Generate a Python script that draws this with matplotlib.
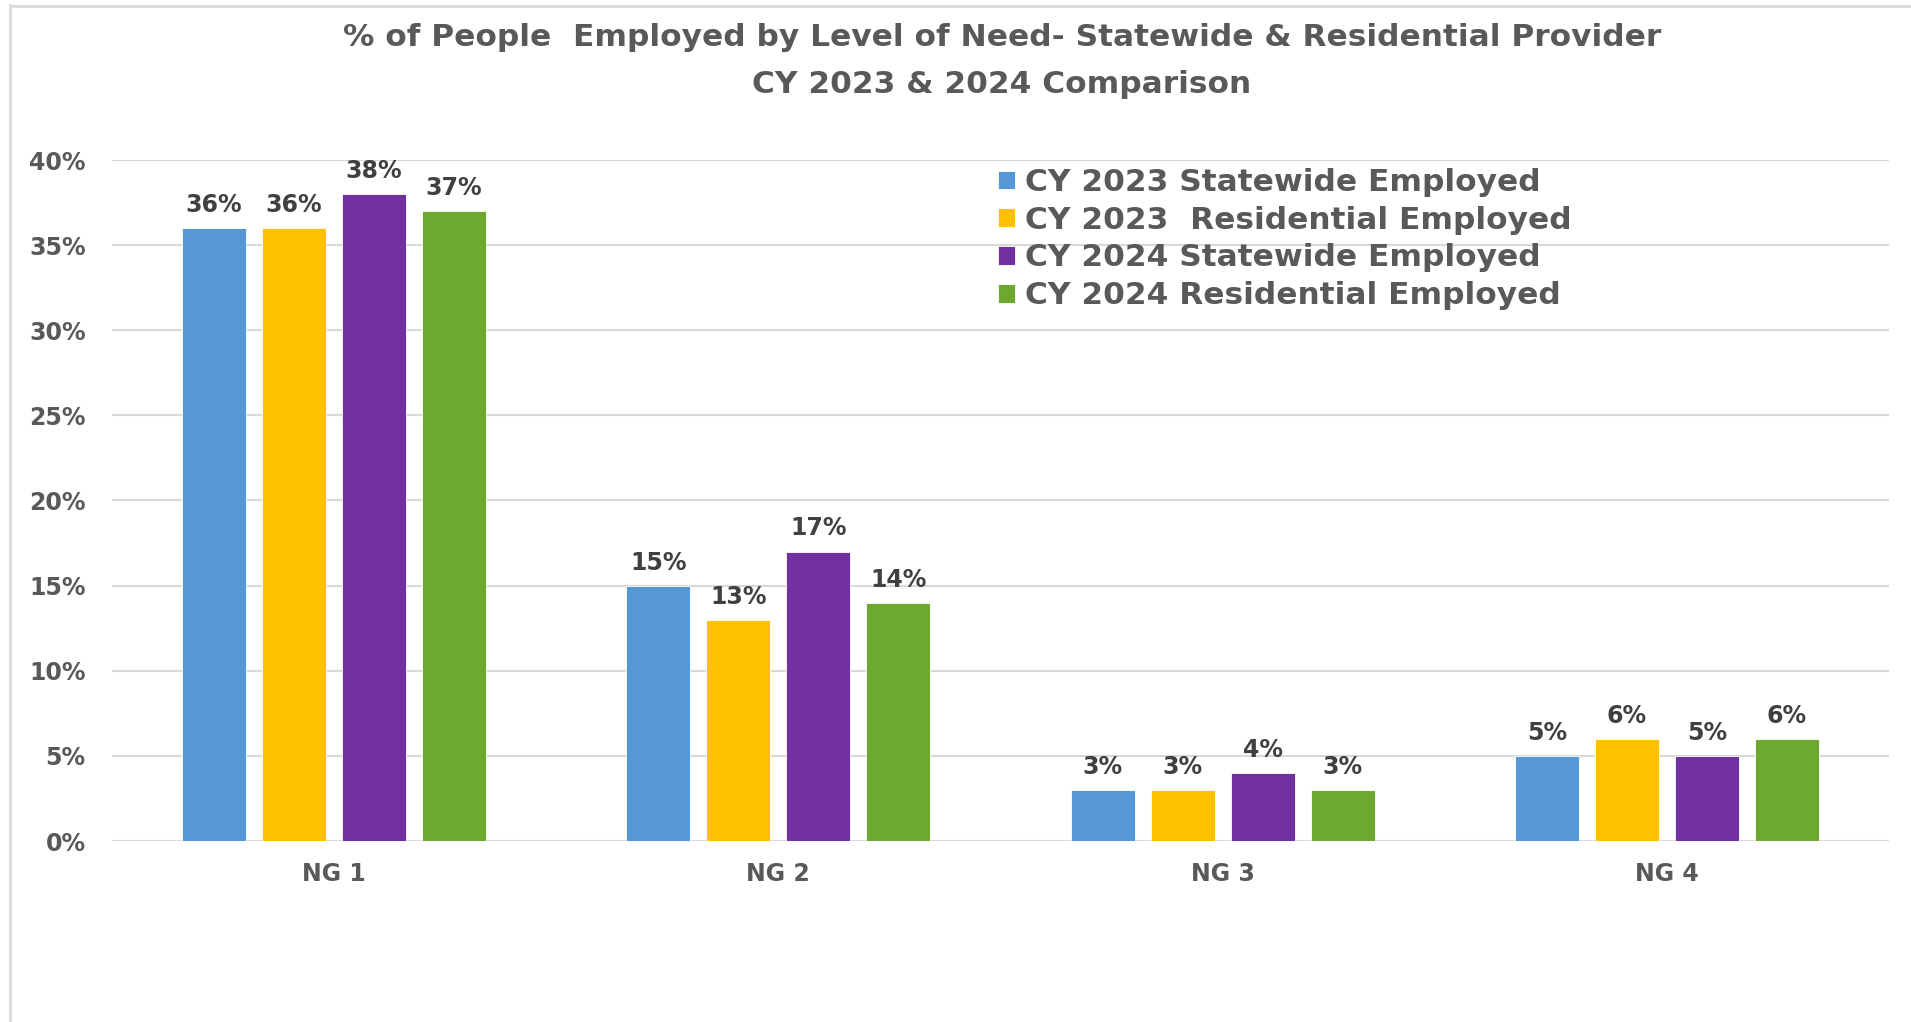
import matplotlib.pyplot as plt
from matplotlib.lines import Line2D
import numpy as np

categories = ['NG 1', 'NG 2', 'NG 3', 'NG 4']
series_names = ['CY 2023 Statewide Employed',
                'CY 2023  Residential Employed',
                'CY 2024 Statewide Employed',
                'CY 2024 Residential Employed']
sw_2023 = [36, 15, 3, 5]
res_2023 = [36, 13, 3, 6]
sw_2024 = [38, 17, 4, 5]
res_2024 = [37, 14, 3, 6]
colors = ['#5597D7', '#FFC000', '#7030A0', '#6EA92F']

title = '% of People  Employed by Level of Need- Statewide & Residential Provider\nCY 2023 & 2024 Comparison'

W, H = 1911, 1022
fig = plt.figure(figsize=(W / 100, H / 100), dpi=100)
ax = fig.add_axes([112 / W, 1 - 841 / H, (1889 - 112) / W, (841 - 160) / H])

font = 'DejaVu Sans'
gray = '#595959'

x = np.arange(len(categories))
width = 0.144
step = 0.18
all_series = [sw_2023, res_2023, sw_2024, res_2024]
for i, (vals, name, c) in enumerate(zip(all_series, series_names, colors)):
    pos = x + (i - 1.5) * step
    bars = ax.bar(pos, np.array(vals) / 100, width, color=c, label=name,
                  edgecolor='white', linewidth=0.6, zorder=3)
    ax.bar_label(bars, labels=[f'{v}%' for v in vals], padding=8,
                 fontsize=17, fontweight='bold', color='#404040',
                 family=font)

ax.set_xlim(-0.5, 3.5)
ax.set_ylim(0, 0.40)
ax.set_yticks(np.arange(0, 0.401, 0.05))
ax.set_yticklabels([f'{int(round(t * 100))}%' for t in ax.get_yticks()])
ax.set_xticks(x)
ax.set_xticklabels(categories)
ax.tick_params(axis='both', length=0, labelsize=17, labelcolor=gray)
ax.tick_params(axis='y', pad=19)
ax.tick_params(axis='x', pad=15)
for lab in ax.get_xticklabels() + ax.get_yticklabels():
    lab.set_fontweight('bold')
    lab.set_family(font)

ax.grid(axis='y', color='#D9D9D9', linewidth=1.5, zorder=0)
ax.set_axisbelow(True)
for s in ax.spines.values():
    s.set_visible(False)

fig.text(1002 / W, 1 - 61 / H, title, ha='center', va='center',
         fontsize=22.5, fontweight='bold', color=gray, family=font,
         linespacing=1.8)

leg = ax.legend(loc='upper left', bbox_to_anchor=(998 / W, 1 - 168 / H),
                bbox_transform=fig.transFigure, frameon=False,
                prop={'family': font, 'weight': 'bold', 'size': 22.5},
                handlelength=0.55, handleheight=0.55, handletextpad=0.3,
                labelspacing=0.28, borderpad=0, borderaxespad=0)
for t in leg.get_texts():
    t.set_color(gray)

# chart frame along the top and left edges
fig.add_artist(Line2D([10 / W, 1], [1 - 6.5 / H, 1 - 6.5 / H],
                      transform=fig.transFigure, color='#DCDCDC', linewidth=2.2))
fig.add_artist(Line2D([10 / W, 10 / W], [0, 1 - 5.5 / H],
                      transform=fig.transFigure, color='#DCDCDC', linewidth=2.2))

fig.savefig('out.png', dpi=100, facecolor='white')
